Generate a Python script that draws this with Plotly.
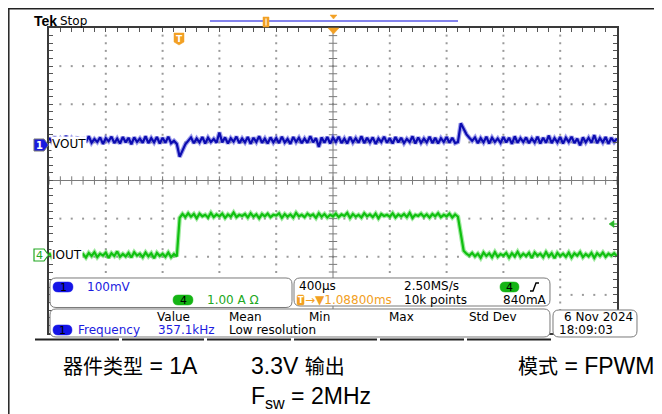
import numpy as np
import plotly.graph_objects as go

# ---------------- data (screen divisions of the 10 x 8 graticule) ----------------
SAMPLE_STEP = 0.05          # div between samples (400 us/div -> 20 us)

# CH1 VOUT, 100 mV/div, values in 1/100 div
vout_cdiv = [
    112, 101, 115, 99, 110, 100, 117, 98, 111, 102,
    114, 97, 112, 100, 116, 99, 109, 101, 113, 96,
    111, 103, 115, 98, 110, 97, 114, 100, 112, 95,
    113, 101, 110, 99, 116, 98, 111, 100, 114, 97,
    112, 99, 115, 98, 104, 96, 62, 78, 95, 104,
    113, 98, 110, 100, 114, 97, 112, 101, 109, 99,
    126, 100, 113, 97, 111, 102, 115, 98, 110, 100,
    114, 96, 112, 101, 116, 99, 110, 97, 113, 100,
    111, 98, 115, 100, 109, 96, 114, 101, 112, 98,
    110, 99, 116, 100, 111, 88, 113, 99, 114, 97,
    112, 101, 115, 98, 110, 97, 114, 100, 111, 99,
    116, 98, 112, 100, 113, 96, 110, 101, 115, 99,
    111, 97, 114, 100, 112, 98, 109, 101, 116, 97,
    113, 99, 110, 100, 115, 98, 112, 97, 111, 101,
    114, 99, 112, 98, 101, 150, 134, 121, 112, 104,
    113, 98, 111, 100, 115, 97, 112, 101, 110, 99,
    114, 100, 112, 96, 116, 99, 111, 101, 113, 98,
    110, 100, 115, 97, 112, 99, 118, 98, 111, 100,
    114, 97, 112, 101, 115, 98, 110, 92, 113, 100,
    112, 99, 119, 98, 111, 100, 114, 96, 112, 101,
    110,
]

# CH4 IOUT, 1 A/div, values in 1/100 div
iout_cdiv = [
    -190, -201, -188, -199, -192, -203, -189, -198, -191, -200,
    -187, -199, -193, -202, -190, -198, -188, -201, -192, -197,
    -189, -203, -191, -198, -186, -200, -193, -199, -190, -202,
    -188, -197, -192, -201, -189, -199, -191, -204, -190, -198,
    -192, -200, -189, -201, -193, -199, -98, -88, -96, -86,
    -95, -88, -99, -87, -94, -90, -97, -85, -96, -89,
    -94, -87, -98, -89, -95, -84, -96, -90, -93, -88,
    -97, -86, -95, -89, -99, -88, -94, -87, -96, -90,
    -92, -86, -98, -88, -95, -89, -97, -85, -94, -90,
    -96, -87, -93, -89, -98, -86, -95, -88, -97, -90,
    -94, -87, -96, -89, -93, -85, -98, -88, -95, -90,
    -97, -86, -94, -89, -96, -87, -99, -88, -93, -90,
    -95, -86, -97, -89, -94, -88, -96, -85, -98, -90,
    -93, -87, -95, -89, -97, -88, -94, -86, -96, -90,
    -94, -87, -97, -89, -95, -140, -184, -192, -197, -190,
    -199, -192, -203, -189, -198, -191, -201, -188, -200, -193,
    -197, -190, -202, -191, -199, -187, -200, -192, -198, -190,
    -203, -189, -197, -192, -201, -188, -199, -191, -204, -190,
    -198, -192, -200, -189, -202, -191, -197, -188, -201, -193,
    -199, -190, -203, -191, -198, -189, -200, -192, -197, -191,
    -199,
]

t_div = np.arange(len(vout_cdiv)) * SAMPLE_STEP
vout = np.array(vout_cdiv) / 100
iout = np.array(iout_cdiv) / 100

# ---------------- page geometry helpers ----------------
# all positions below are page pixels; the page body has an 8px margin
PAGE_W, PAGE_H, BODY = 662, 414, 8
W, H = PAGE_W - BODY, PAGE_H - BODY
L, R, T, B = 49, 617, 28, 333      # graticule box in page pixels
FONT = "DejaVu Sans"
CAP_FONT = "Liberation Sans, Noto Sans CJK SC"
BLUE, GREEN, ORANGE = "#1c1ce0", "#22a822", "#f2a024"


def px(x):
    return (x - L) / (R - L)


def py(y):
    return (B - y) / (B - T)


def poly(pts):
    return "M" + " L".join(f"{px(x):.5f},{py(y):.5f}" for x, y in pts) + " Z"


def rrect(x0, y0, x1, y1, r):
    p = lambda x, y: f"{px(x):.5f},{py(y):.5f}"
    return (f"M{p(x0 + r, y0)} L{p(x1 - r, y0)} Q{p(x1, y0)} {p(x1, y0 + r)} "
            f"L{p(x1, y1 - r)} Q{p(x1, y1)} {p(x1 - r, y1)} L{p(x0 + r, y1)} "
            f"Q{p(x0, y1)} {p(x0, y1 - r)} L{p(x0, y0 + r)} Q{p(x0, y0)} {p(x0 + r, y0)} Z")


fig = go.Figure()

# ---------------- graticule ----------------
gx, gy = [], []
for xv in [1, 2, 3, 4, 6, 7, 8, 9]:
    for k in range(1, 40):
        gx.append(xv); gy.append(-4 + k * 0.2)
for yv in [-3, -2, -1, 1, 2, 3]:
    for k in range(1, 50):
        gx.append(k * 0.2); gy.append(yv)
fig.add_scatter(x=gx, y=gy, mode="markers", hoverinfo="skip",
                marker=dict(symbol="square", size=2, color="#9a9a9a"))

fig.add_scatter(x=[5, 5], y=[-4, 4], mode="lines", hoverinfo="skip",
                line=dict(color="#7a7a7a", width=1))
fig.add_scatter(x=[0, 10], y=[0, 0], mode="lines", hoverinfo="skip",
                line=dict(color="#7a7a7a", width=1))
fig.add_scatter(x=[k * 0.2 for k in range(51)], y=[0] * 51, mode="markers", hoverinfo="skip",
                marker=dict(symbol="line-ns", size=6, line=dict(width=1, color="#7a7a7a")))
fig.add_scatter(x=[5] * 41, y=[-4 + k * 0.2 for k in range(41)], mode="markers", hoverinfo="skip",
                marker=dict(symbol="line-ew", size=6, line=dict(width=1, color="#7a7a7a")))

# ---------------- waveforms ----------------
fig.add_scatter(x=t_div, y=vout, mode="lines", line=dict(color="rgba(80,80,220,0.55)", width=4.5))
fig.add_scatter(x=t_div, y=vout, mode="lines", line=dict(color="#0c0cb0", width=2.2))
fig.add_scatter(x=t_div, y=iout, mode="lines", line=dict(color="rgba(80,215,80,0.55)", width=4.5))
fig.add_scatter(x=t_div, y=iout, mode="lines", line=dict(color="#10c010", width=2.2))

shapes = []
ann = []


def shape(path, fill="white", line="#7a7a7a", width=1):
    shapes.append(dict(type="path", path=path, xref="paper", yref="paper", layer="above",
                       fillcolor=fill, line=dict(color=line, width=width)))


def seg(x0, y0, x1, y1, color="#222", width=1.5):
    shapes.append(dict(type="line", xref="paper", yref="paper", layer="above",
                       x0=px(x0), y0=py(y0), x1=px(x1), y1=py(y1),
                       line=dict(color=color, width=width)))


def text(x, y, s, color="black", size=12, anchor="left", family=FONT, bg=None, **kw):
    d = dict(x=px(x), y=py(y), xref="paper", yref="paper", text=s, showarrow=False,
             xanchor=anchor, yanchor="middle", borderpad=0,
             font=dict(family=family, size=size, color=color), **kw)
    if bg:
        d["bgcolor"] = bg
    ann.append(d)


def big(s):
    # latin part of the caption is set a bit larger than the CJK glyphs
    return f'<span style="font-size:23px">{s}</span>'


# page border lines (as close to the page edge as the body margin allows)
seg(BODY, BODY + 0.8, PAGE_W, BODY + 0.8, "#222", 1.5)
seg(BODY + 0.8, BODY, BODY + 0.8, PAGE_H, "#222", 1.5)

# header
text(33, 21, "<b>Tek</b>", size=14, family="Liberation Sans")
text(59, 21, "Stop", size=12)
seg(210, 21, 458, 21, "#5a5ae6", 1.5)
shape(poly([(263, 17), (269, 17), (269, 27), (263, 27)]), ORANGE, ORANGE, 0.5)
shape(poly([(265.5, 18.5), (266.5, 18.5), (266.5, 25.5), (265.5, 25.5)]), "white", "white", 0.1)
shape(poly([(330, 15), (337, 15), (333.5, 19)]), ORANGE, ORANGE, 0.5)
shape(poly([(328, 28), (339, 28), (333.5, 34)]), ORANGE, ORANGE, 0.5)
shape(poly([(174, 33), (184, 33), (184, 42), (179, 45), (174, 42)]), ORANGE, ORANGE, 0.5)
text(179, 38.5, "<b>T</b>", "white", 9, "center")

# channel markers
shape(poly([(34, 139), (44, 139), (48.5, 145), (44, 151), (34, 151)]), "#1a1ae0", "#777", 1)
text(39.5, 145, "<b>1</b>", "white", 10, "center")
text(51, 144, "VOUT", size=12, bg="white")
shape(poly([(34, 249), (44, 249), (48.5, 255), (44, 261), (34, 261)]), "white", GREEN, 1.2)
text(39.5, 255, "4", GREEN, 11, "center")
text(51, 255, "IOUT", size=12, bg="white")
# trigger level arrow
shape(poly([(609, 224), (614, 220.5), (614, 227.5)]), "#2ab82a", "#2ab82a", 0.5)
seg(613, 224, 617, 224, "#2ab82a", 1.2)

# readout panels
shape(rrect(50, 278, 292, 307.5, 6))
shape(rrect(294, 278, 550, 306, 6))
shape(rrect(50, 309, 550, 337, 6))
shape(rrect(553, 310, 637, 337, 6))
for a, b in [(35, 119), (122, 204), (207, 291), (294, 377), (380, 464), (467, 551)]:
    seg(a, 339.5, b, 339.5, "#222", 2)

# channel readout
shape(rrect(53, 282, 73, 292, 5), "#1414e6", "#1414e6", 0.5)
text(63, 287, "1", "black", 11, "center")
text(86, 286.5, "100mV", BLUE)
shape(rrect(173, 295, 193, 305, 5), "#14b414", "#14b414", 0.5)
text(183, 300, "4", "black", 11, "center")
text(206, 300, "1.00 A Ω", GREEN)

# timebase readout
text(298, 286, "400µs")
text(403, 286, "2.50MS/s")
shape(rrect(500, 282, 519, 292, 5), "#14b414", "#14b414", 0.5)
text(509.5, 287, "4", "black", 11, "center")
shapes.append(dict(type="path", xref="paper", yref="paper", layer="above",
                   path=f"M{px(530)},{py(291)} L{px(533)},{py(291)} L{px(536)},{py(283)} L{px(539)},{py(283)}",
                   line=dict(color="black", width=1.4)))
shape(rrect(297, 295, 304, 305, 1.5), ORANGE, ORANGE, 0.5)
text(300.5, 300, "<b>T</b>", "white", 8, "center")
text(304, 300, "→▼1.08800ms", ORANGE)
text(403, 300, "10k points")
text(502, 300, "840mA")

# measurement readout
for lbl, x in [("Value", 156), ("Mean", 228), ("Min", 308), ("Max", 388), ("Std Dev", 468)]:
    text(x, 317, lbl)
shape(rrect(53, 325, 72, 335, 5), "#1414e6", "#1414e6", 0.5)
text(62.5, 330, "1", "black", 11, "center")
text(77, 330, "Frequency", BLUE)
text(157, 330, "357.1kHz", BLUE)
text(228, 330, "Low resolution")
text(563, 317, "6 Nov 2024")
text(558, 330, "18:09:03")

# caption
text(62, 366, "器件类型" + big(" = 1A"), size=20, family=CAP_FONT)
text(250, 366, big("3.3V ") + "输出", size=20, family=CAP_FONT)
text(655, 366, "模式" + big(" = FPWM"), size=20, family=CAP_FONT, anchor="right")
text(250, 397, big("F<sub>sw</sub> = 2MHz"), size=20, family=CAP_FONT)

axis = dict(showgrid=False, zeroline=False, showticklabels=False, showline=True,
            linecolor="#3a3a3a", linewidth=1.5, mirror="ticks", ticks="inside",
            ticklen=4, tickcolor="#555", tickwidth=1, tick0=0, dtick=0.2, fixedrange=True)
fig.update_xaxes(range=[0, 10], **axis)
fig.update_yaxes(range=[-4, 4], **axis)
fig.update_layout(
    width=W, height=H, autosize=False,
    margin=dict(l=L - BODY, r=PAGE_W - R, t=T - BODY, b=PAGE_H - B),
    paper_bgcolor="white", plot_bgcolor="white", showlegend=False,
    shapes=shapes, annotations=ann,
)

fig.write_html("out.html")
